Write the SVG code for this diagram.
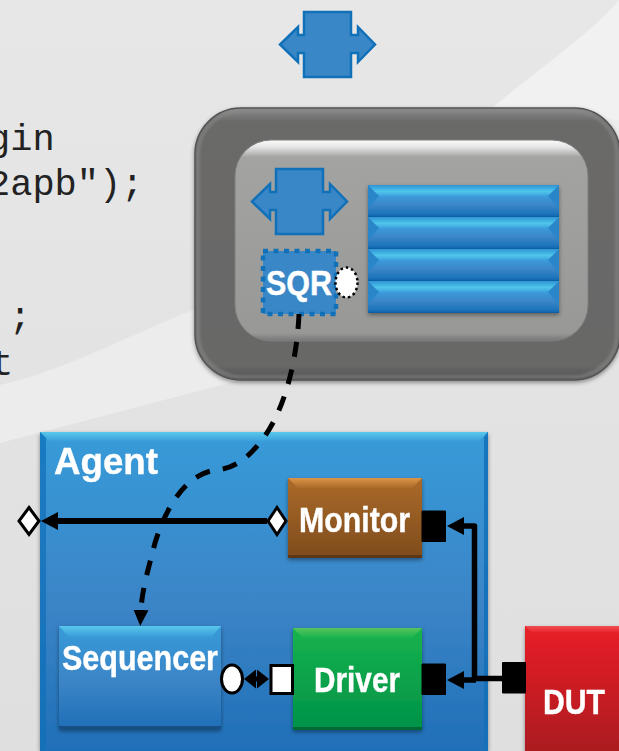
<svg xmlns="http://www.w3.org/2000/svg" xmlns:xlink="http://www.w3.org/1999/xlink" width="619" height="751" viewBox="0 0 619 751">
<style>
.code{font-family:"Liberation Mono","Courier New",monospace;font-size:37px;fill:#222}
.lbl{font-family:"Liberation Sans",Arial,sans-serif;font-weight:bold;font-size:35px;fill:#fff;stroke:#fff;stroke-width:.4}
.cross{fill:#3a87c8;stroke:#1070b8;stroke-width:2.5}
.hole{fill:#fff;stroke:#000;stroke-width:3}
.port{fill:#000;stroke:#000;stroke-width:1;stroke-linejoin:round}
.wire{fill:none;stroke:#000;stroke-width:5.5;stroke-linejoin:round}
.edgeB{fill:#000;opacity:.28}
</style>
<defs>
<linearGradient id="bg" x1="0" y1="0" x2="0" y2="1"><stop offset="0" stop-color="#e7e7e7"/><stop offset="1" stop-color="#dfdfdf"/></linearGradient>
<linearGradient id="blue" x1="0" y1="0" x2="0" y2="1"><stop offset="0" stop-color="#379bd9"/><stop offset=".55" stop-color="#3b84c6"/><stop offset="1" stop-color="#1f6fb8"/></linearGradient>
<linearGradient id="bar" x1="0" y1="0" x2="0" y2="1"><stop offset="0" stop-color="#2e94d4"/><stop offset=".2" stop-color="#4fc6ec"/><stop offset=".38" stop-color="#3a98d8"/><stop offset=".62" stop-color="#3a87c8"/><stop offset=".92" stop-color="#1a72ba"/><stop offset="1" stop-color="#0c5c9f"/></linearGradient>
<linearGradient id="brown" x1="0" y1="0" x2="0" y2="1"><stop offset="0" stop-color="#ab6a2a"/><stop offset="1" stop-color="#7e4c1c"/></linearGradient>
<linearGradient id="green" x1="0" y1="0" x2="0" y2="1"><stop offset="0" stop-color="#17b34e"/><stop offset="1" stop-color="#009248"/></linearGradient>
<linearGradient id="red" x1="0" y1="0" x2="0" y2="1"><stop offset="0" stop-color="#e92027"/><stop offset="1" stop-color="#a81a1f"/></linearGradient>
<linearGradient id="bvBlue" x1="0" y1="0" x2="0" y2="1"><stop offset="0" stop-color="#5ac8ec"/><stop offset="1" stop-color="#379bd9"/></linearGradient>
<linearGradient id="bvBrown" x1="0" y1="0" x2="0" y2="1"><stop offset="0" stop-color="#dc9549"/><stop offset="1" stop-color="#ab6a2a"/></linearGradient>
<linearGradient id="bvGreen" x1="0" y1="0" x2="0" y2="1"><stop offset="0" stop-color="#56c45e"/><stop offset="1" stop-color="#17b34e"/></linearGradient>
<linearGradient id="bvRed" x1="0" y1="0" x2="0" y2="1"><stop offset="0" stop-color="#ee5055"/><stop offset="1" stop-color="#e92027"/></linearGradient>
<linearGradient id="outer" x1="0" y1="0" x2="0" y2="1"><stop offset="0" stop-color="#8a8a8a"/><stop offset=".05" stop-color="#6b6a69"/><stop offset=".95" stop-color="#686766"/><stop offset="1" stop-color="#4e4e4e"/></linearGradient>
<linearGradient id="inner" x1="0" y1="0" x2="0" y2="1"><stop offset="0" stop-color="#fafafa"/><stop offset=".035" stop-color="#e6e6e6"/><stop offset=".085" stop-color="#a3a3a2"/><stop offset=".96" stop-color="#989897"/><stop offset="1" stop-color="#777"/></linearGradient>
<filter id="sh" x="-10%" y="-10%" width="120%" height="125%"><feDropShadow dx="0" dy="2" stdDeviation="2" flood-color="#000" flood-opacity=".4"/></filter>
<filter id="soft" x="-5%" y="-5%" width="110%" height="110%"><feGaussianBlur stdDeviation="1.5"/></filter>
<marker id="big" markerUnits="userSpaceOnUse" markerWidth="18" markerHeight="20" refX="1" refY="10" orient="auto"><path d="M1 1L18 10L1 19Z" fill="#000"/></marker>
<marker id="dash" markerUnits="userSpaceOnUse" markerWidth="16" markerHeight="16" refX="0" refY="8" orient="auto"><path d="M0 0.5L16 8L0 15.500Z" fill="#000"/></marker>
<g id="barShape">
<rect x="368" y="0" width="191" height="32" fill="url(#bar)"/>
<path d="M368 0L379 11L368 24Z" fill="#2c86c8"/>
<path d="M559 0L548 11L559 24Z" fill="#2c86c8"/>
</g>
</defs>

<g id="background">
<rect width="619" height="751" fill="url(#bg)"/>
<path d="M0 385C60 372 130 335 193 310C300 265 430 210 490 110C530 75 590 35 619 0V300C480 340 330 360 233 382L0 443Z" fill="#ececec"/>
<path d="M490 110C530 75 590 35 619 0V120Z" fill="#f1f1f1"/>
</g>

<g id="code">
<text class="code" x="-12" y="150">gin</text>
<text class="code" x="-12" y="195">2apb");</text>
<text class="code" x="9" y="328">;</text>
<text class="code" x="-9" y="375">t</text>
</g>

<g id="analysis-port-top"><path class="cross" d="M304 12H351V35H358V27L375 44.500L358 62V53H351V77H304V53H298V62L280 44.500L298 27V35H304Z"/></g>

<g id="environment">
<rect x="195" y="108" width="425" height="272" rx="46" fill="url(#outer)" stroke="#4c4c4c" stroke-width="1.500" filter="url(#sh)"/>
<rect x="198" y="111" width="419" height="266" rx="43" fill="none" stroke="#8c8c8c" stroke-width="3" opacity=".7" filter="url(#soft)"/>
<rect x="235" y="140" width="353" height="201" rx="36" fill="url(#inner)" stroke="#7e7e7e" stroke-width="1"/>
</g>

<g id="analysis-port-inner"><path class="cross" d="M276 169H323V192H330V184L347 201.500L330 219V210H323V234H276V210H270V219L252 201.500L270 184V192H276Z"/></g>

<g id="register-stack" filter="url(#sh)">
<use id="bar1" xlink:href="#barShape" href="#barShape" y="185"/>
<use id="bar2" xlink:href="#barShape" href="#barShape" y="217"/>
<use id="bar3" xlink:href="#barShape" href="#barShape" y="249"/>
<use id="bar4" xlink:href="#barShape" href="#barShape" y="281"/>
</g>

<g id="sqr">
<rect x="263" y="251" width="73" height="63" fill="#3a87c8" stroke="#1070b8" stroke-width="4.500" stroke-dasharray="5 5.500"/>
<text class="lbl" x="266" y="295" textLength="66" lengthAdjust="spacingAndGlyphs">SQR</text>
</g>
<g id="sqr-port"><ellipse cx="346.500" cy="282.500" rx="11" ry="15" fill="#fff" stroke="#000" stroke-width="2.500" stroke-dasharray="2.500 3"/></g>

<g id="agent" filter="url(#sh)">
<rect x="40" y="432" width="448" height="319" fill="url(#blue)"/>
<path d="M40 432H488L478 442H50Z" fill="url(#bvBlue)"/>
<path d="M40 432L46 438V751H40Z" fill="#1070b8" opacity=".75"/>
<path d="M488 432L484 437V751H488Z" fill="#1070b8" opacity=".85"/>
<text class="lbl" x="54" y="474" textLength="104" lengthAdjust="spacingAndGlyphs" style="font-size:37px">Agent</text>
</g>

<g id="monitor" filter="url(#sh)">
<rect x="288" y="478" width="134" height="80" fill="url(#brown)"/>
<path d="M288 478H422L412 488H298Z" fill="url(#bvBrown)"/>
<rect x="288" y="555" width="134" height="3" class="edgeB"/>
<text class="lbl" x="299" y="532" textLength="111" lengthAdjust="spacingAndGlyphs">Monitor</text>
</g>

<g id="sequencer" filter="url(#sh)">
<rect x="59" y="626" width="162" height="103" fill="url(#blue)"/>
<path d="M59 626H221L211 637H69Z" fill="url(#bvBlue)"/>
<rect x="59" y="726" width="162" height="3" class="edgeB"/>
<text class="lbl" x="62" y="670" textLength="156" lengthAdjust="spacingAndGlyphs">Sequencer</text>
</g>

<g id="driver" filter="url(#sh)">
<rect x="293" y="628" width="129" height="102" fill="url(#green)"/>
<path d="M293 628H422L412 638H303Z" fill="url(#bvGreen)"/>
<rect x="293" y="727" width="129" height="3" class="edgeB"/>
<text class="lbl" x="314" y="692" textLength="86" lengthAdjust="spacingAndGlyphs">Driver</text>
</g>

<g id="dut" filter="url(#sh)">
<rect x="525" y="626" width="100" height="130" fill="url(#red)"/>
<path d="M525 626H625V633H532Z" fill="url(#bvRed)"/>
<text class="lbl" x="543" y="714" textLength="62" lengthAdjust="spacingAndGlyphs">DUT</text>
</g>

<g id="ports">
<rect class="port" x="422" y="511" width="23.500" height="30.500"/>
<rect class="port" x="422" y="664" width="23.500" height="30.500"/>
<rect class="port" x="502.500" y="662.500" width="23" height="30.500"/>
<path id="port-out" class="hole" d="M29 507.500L39 521L29 534.500L19 521Z"/>
<path id="port-mon" class="hole" d="M277 507.500L286 521L277 534.500L268 521Z"/>
<ellipse id="port-seq" class="hole" cx="232" cy="679" rx="10.500" ry="14"/>
<rect id="port-drv" class="hole" x="271" y="665.500" width="21.500" height="28"/>
</g>

<g id="connectors">
<path class="wire" d="M267 521H58" marker-end="url(#big)" style="stroke-width:6"/>
<path class="wire" d="M503 678.500H474.500V526H464" marker-end="url(#big)"/>
<path class="wire" d="M476 680H464" marker-end="url(#big)"/>
<path d="M299 314C297 360 285 410 262 440C248 458 235 468 217 470C185 473 165 510 155 543C148 570 142 590 141 610" fill="none" stroke="#000" stroke-width="5" stroke-dasharray="15 13" marker-end="url(#dash)"/>
<path d="M254 679H259" fill="none" stroke="#000" stroke-width="5"/>
<path d="M244 679L256 669.500V688.500Z M269 679L257 669.500V688.500Z" fill="#000"/>
</g>
</svg>
